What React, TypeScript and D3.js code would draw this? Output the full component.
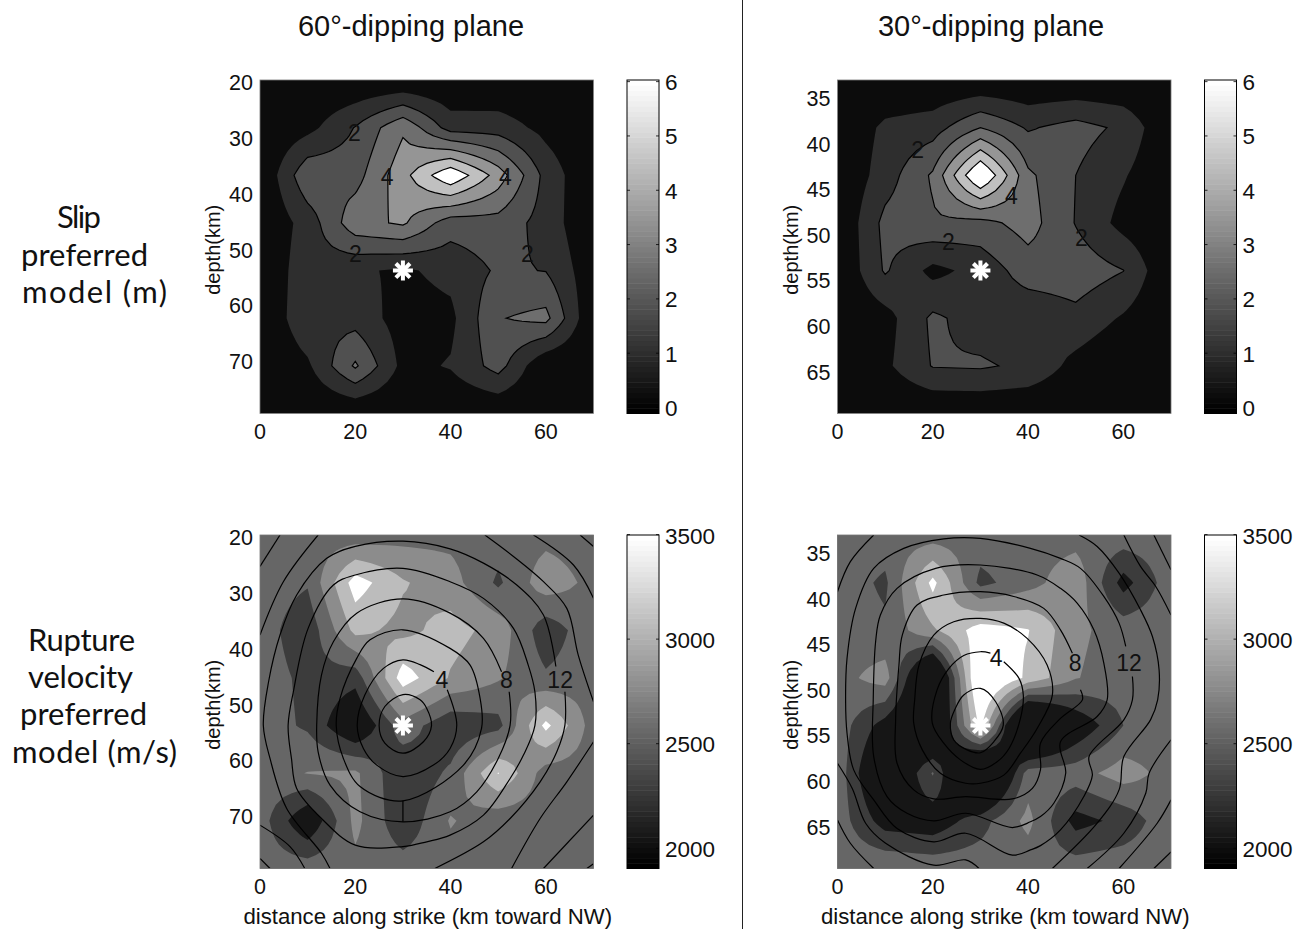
import React from "react";
import * as d3 from "d3";

// ---- shared grid: along-strike and down-dip positions (km) of the model nodes
const nodeKm = [0, 10, 20, 30, 40, 50, 60, 70];
const hypocentre = [30, 40];
const strikeTicks = [0, 20, 40, 60];
const depthTicks60 = [20, 30, 40, 50, 60, 70];
const depthTicks30 = [35, 40, 45, 50, 55, 60, 65];
const depthRange60 = [19.65, 79.35];
const depthRange30 = [33.02, 69.6];

// ---- slip (m)
const slipLevels = [1, 2, 3, 4, 5, 6];
const slipBands = ["#0c0c0c", "#2e2e2e", "#505050", "#6e6e6e", "#959595", "#c0c0c0", "#ffffff"];
const slipTicks = [0, 1, 2, 3, 4, 5, 6];
const slip60 = [
  [0, 0, 0, 0, 0, 0, 0, 0],
  [0, 0.67, 2.05, 3.83, 1.55, 1.53, 0.68, 0],
  [0, 2.8, 2.6, 4.65, 6.88, 4.56, 1.66, 0],
  [0, 1.43, 3.65, 4.15, 2.45, 2.6, 1.6, 0],
  [0, 1.68, 1.15, 0.85, 1.3, 2.14, 1.97, 0.3],
  [0, 1.79, 1.6, 0.55, 0.75, 2.94, 3.3, 0],
  [0, 0.82, 3.15, 0.7, 1.08, 2.41, 0.05, 0],
  [0, 0, 0, 0, 0, 0, 0, 0],
];
const slip30 = [
  [0, 0, 0, 0, 0, 0, 0, 0],
  [0, 1.23, 1.55, 3.0, 1.89, 2.38, 1.8, 0],
  [0, 1.5, 3.15, 7.3, 3.2, 2.0, 1.1, 0],
  [0, 2.3, 2.85, 2.65, 3.42, 1.95, 0.64, 0],
  [0, 2.12, 0.7, 1.35, 2.51, 2.6, 2.02, 0],
  [0, 0.6, 2.2, 1.53, 1.2, 1.7, 0.88, 0],
  [0, 0.8, 2.06, 2.13, 1.79, 0.66, 0, 0],
  [0, 0, 0, 0, 0, 0, 0, 0],
];
const slipLabels60 = [[2, 19.8, 11.1], [4, 26.7, 20.4], [4, 51.5, 20.4], [2, 20, 36.6], [2, 56.1, 36.6]];
const slipLabels30 = [[2, 16.8, 14.7], [4, 36.5, 24.4], [2, 23.3, 34], [2, 51.2, 33.2]];

// ---- rupture velocity (m/s)
const velLevels = [2100, 2400, 2700, 3000, 3300];
const velBands = ["#161616", "#3c3c3c", "#666666", "#8c8c8c", "#bcbcbc", "#ffffff"];
const velTicks = [2000, 2500, 3000, 3500];
const vel60 = [
  [2550, 2550, 2520, 2595, 2610, 2550, 2610, 2550],
  [2550, 2430, 3450, 3030, 2829, 2346, 2880, 2610],
  [2550, 2190, 3090, 2910, 3120, 2886, 2205, 2625],
  [2550, 2325, 2205, 3468, 2970, 2730, 2445, 2580],
  [2550, 2352, 1722, 2580, 2160, 2295, 3390, 2550],
  [2550, 2712, 2760, 2130, 2460, 3315, 2550, 2550],
  [2550, 1788, 2790, 2160, 2730, 2490, 2550, 2550],
  [2550, 2562, 2610, 2550, 2550, 2550, 2550, 2550],
];
const vel30 = [
  [2580, 2580, 2550, 2580, 2580, 2580, 2580, 2580],
  [2580, 2340, 3390, 2310, 2580, 2910, 1974, 2580],
  [2580, 2460, 2955, 3450, 3315, 2760, 2580, 2580],
  [2580, 2850, 1200, 3840, 3225, 2715, 2550, 2580],
  [2580, 1950, 1350, 3390, 900, 1800, 2400, 2580],
  [2610, 1455, 2430, 900, 2550, 2568, 2850, 2580],
  [2565, 1950, 1881, 2280, 2790, 1980, 2190, 2625],
  [2580, 2670, 2610, 2580, 2490, 2562, 2601, 2580],
];

// ---- rupture-time isochrones: [along strike km, down dip km]
type Iso = { closed: boolean; pts: number[][] };
const iso60: Iso[] = [
  { closed: true, pts: [[25, 40], [26.2, 36], [30, 33.5], [33.6, 34.6], [35, 36.4], [36, 40], [34.3, 43.4], [30, 45.8], [26.2, 43.7]] },
  { closed: false, pts: [[39.3, 32.5], [41.3, 39.9], [39.9, 44.8], [36.4, 48.3], [30, 50.7], [24.5, 48.3], [21.7, 44.8], [20.4, 40], [22, 33.6], [25.9, 28], [30, 26.2], [33.6, 27.2], [36.5, 28.7]] },
  { closed: true, pts: [[16, 40], [16.8, 34.3], [20.3, 25.9], [23.1, 22], [30, 19.9], [39.9, 23.8], [44.1, 27.3], [46.2, 34.3], [46.5, 40.6], [42.7, 48.3], [30, 55.8], [21, 52.8], [17.5, 46.9]] },
  { closed: false, pts: [[52.3, 32.9], [52.5, 39.9], [50, 46.9], [45.5, 53.9], [39.9, 58.1], [30, 60.2], [21, 58.1], [14.7, 52.5], [12.2, 45.5], [11.9, 39.9], [12.9, 29.4], [15.4, 22.4], [20.3, 16.4], [30, 13.4], [39.9, 16.4], [46.9, 21.7], [50.7, 28.7]] },
  { closed: false, pts: [[30, 55.8], [30, 60.2]] },
  { closed: true, pts: [[5.9, 40], [7, 32.9], [10.1, 19.6], [15.4, 10.5], [20, 8.4], [30, 7], [39.9, 9.8], [46.9, 13.3], [53.2, 19.6], [56.3, 27.3], [57.7, 32.9], [57.7, 40], [55.3, 46.2], [52.5, 51.1], [46.9, 58.8], [39.9, 63], [35, 64.4], [30, 65.4], [20, 65.1], [12.9, 59.5], [7.7, 53.2], [6.6, 46.9]] },
  { closed: false, pts: [[62.1, 27.6], [59.5, 16.8], [53.9, 10.5], [46.9, 5.9], [39.9, 2.9], [30, 1.3], [20, 2.4], [14, 4.9], [7.7, 12.6], [4.2, 21], [1.8, 30.8], [0.7, 40], [2.1, 46.9], [5.6, 57.4], [12.9, 66.8], [14.7, 70]] },
  { closed: false, pts: [[64, 32.9], [64, 39.9], [62.3, 45.5], [58.8, 51.8], [52.5, 59.5], [46.9, 64.4], [36.7, 70]] },
  { closed: false, pts: [[12.2, 0], [4.9, 9.8], [0, 21]] },
  { closed: false, pts: [[47.2, 0], [53.2, 4.5], [59.5, 9.8], [64.4, 15.4], [66.8, 25.2], [70, 35]] },
  { closed: false, pts: [[70, 43.4], [64.4, 51.8], [58.8, 59.5], [52.8, 70]] },
  { closed: false, pts: [[0, 60.9], [6.3, 65.4], [9.4, 70]] },
  { closed: false, pts: [[0, 6.6], [4.2, 0]] },
  { closed: false, pts: [[57.4, 0], [65.8, 6.3], [70, 13.3]] },
  { closed: false, pts: [[59.5, 70], [70, 58.8]] },
  { closed: false, pts: [[0, 67.9], [2.1, 70]] },
  { closed: false, pts: [[67.2, 0], [70, 2.4]] },
  { closed: false, pts: [[68.6, 70], [70, 69]] },
];
const iso30: Iso[] = [
  { closed: true, pts: [[30, 32.2], [26.5, 33.6], [24.6, 36.7], [23.7, 39.5], [24.4, 43], [27.2, 45.1], [30, 45.7], [32.8, 43.4], [34.8, 39.9], [33.2, 35]] },
  { closed: false, pts: [[34.9, 26.6], [38.1, 30.1], [39, 33.6], [38.4, 38.5], [36, 44.8], [33.5, 47.6], [30, 49.2], [25.8, 47.2], [22.3, 43.7], [19.9, 39.5], [20.9, 32.5], [23.4, 28], [26.5, 25.3], [30, 24.5], [32.1, 24.8]] },
  { closed: true, pts: [[30, 17.5], [24.4, 18.2], [20.2, 21], [17.1, 27.3], [16.2, 34.6], [16, 39.5], [17.8, 45.1], [21.6, 50], [26.9, 52.1], [30, 52.1], [34.9, 50.4], [38.4, 45.8], [41.9, 40.6], [45.1, 33.6], [44, 27.3], [39.8, 21.7], [34.9, 18.5]] },
  { closed: false, pts: [[51, 32.5], [51.4, 34.6], [46.8, 38.5], [42.6, 43.7], [42.6, 49.3], [40.9, 53.2], [36.7, 55.4], [26.9, 54.9], [20.2, 55.4], [16, 53.5], [12.5, 47.9], [12.2, 38.8], [12.9, 27.3], [13.6, 21], [16.7, 14.7], [22.3, 12.6], [30, 11.9], [37, 12.9], [43.3, 15.4], [46.8, 19.9], [49.3, 24.8]] },
  { closed: true, pts: [[56.6, 34.6], [54.5, 38.1], [46.8, 43.4], [47.9, 50], [45.4, 56.3], [42.6, 59.1], [40.5, 60.2], [36.7, 61.4], [26.9, 58.4], [20.2, 60], [14.6, 58.4], [10.4, 54.9], [7.6, 46.5], [7.5, 34.6], [8, 22.4], [9, 16.8], [12.5, 11.2], [20.6, 7], [30, 6.3], [41.9, 8.4], [46.8, 11.2], [50.3, 14.3], [53.8, 19.9], [55.9, 26.9]] },
  { closed: false, pts: [[61.9, 29.7], [61.9, 34.6], [60.1, 38.8], [52.8, 46.5], [53.5, 50.4], [51.7, 54.9], [46.8, 61.9], [42.6, 65.2], [40.5, 66.1], [36.7, 67.2], [26.9, 62.6], [20.2, 64.4], [12.5, 61.6], [7.6, 55.6], [3.4, 49.3], [2, 41.6], [1.7, 34.6], [2, 25.9], [3.8, 15.4], [7.6, 7], [13.9, 2.8], [22.3, 0.8], [30, 0.7], [40.5, 2.8], [46.8, 4.9], [51, 7], [55.9, 12.9], [59.1, 18.5], [60.5, 23.4]] },
  { closed: false, pts: [[7.6, 0], [2.7, 5.6], [0, 11.9]] },
  { closed: false, pts: [[50.7, 0], [54.5, 2.4], [59.1, 8], [63.6, 15.7], [66.1, 21.3], [67.5, 28.3], [67.2, 34.6], [65.7, 38.8], [60.1, 46.5], [59.1, 53.5], [54.5, 60.5], [45.1, 70]] },
  { closed: false, pts: [[0, 47.9], [3.1, 53.2], [5.9, 60.5], [10.1, 64.7], [20.2, 69.3], [26.9, 68.2], [29.7, 70]] },
  { closed: false, pts: [[60.1, 0], [63.6, 6.6], [66.8, 10.8], [70, 16.8]] },
  { closed: false, pts: [[70, 43], [65.4, 50], [64.7, 54.2], [60.1, 62.6], [52.4, 70]] },
  { closed: false, pts: [[0, 59.8], [2.7, 64.7], [7.6, 70]] },
  { closed: false, pts: [[66.4, 0], [70, 7.3]] },
  { closed: false, pts: [[70, 55.6], [67.1, 60.5], [59.1, 70]] },
  { closed: false, pts: [[70, 66.5], [66.4, 70]] },
];
const isoLabels60 = [[4, 38.2, 30.5], [8, 51.7, 30.5], [12, 63, 30.5]];
const isoLabels30 = [[4, 33.3, 25.9], [8, 49.9, 26.9], [12, 61.2, 26.9]];

const HELV = "'Liberation Sans', Arial, sans-serif";
const GEOM = "Lato, 'Open Sans', sans-serif";
const SIZE = 333.5;
const TICK_FS = 21.5;
const starAngles = [0, 45, 90, 135];
const REFINE = 6;

// bilinear resampling of the node grid so that contour lines curve inside each cell
function refine(grid: number[][]) {
  const n = grid.length;
  const m = (n - 1) * REFINE + 1;
  const out: number[] = [];
  for (let j = 0; j < m; j++) {
    const gy = j / REFINE;
    const j0 = Math.min(Math.floor(gy), n - 2);
    const ty = gy - j0;
    for (let i = 0; i < m; i++) {
      const gx = i / REFINE;
      const i0 = Math.min(Math.floor(gx), n - 2);
      const tx = gx - i0;
      out.push(
        grid[j0][i0] * (1 - tx) * (1 - ty) +
          grid[j0][i0 + 1] * tx * (1 - ty) +
          grid[j0 + 1][i0] * (1 - tx) * ty +
          grid[j0 + 1][i0 + 1] * tx * ty
      );
    }
  }
  return { m, out };
}

function Panel(props: any) {
  const { x, y, grid, levels, bands, lineFrom, depthRange, depthTicks, labels, iso, xlabel, title, titleX, cbDomain, cbTicks } = props;
  const sx = d3.scaleLinear().domain([0, 70]).range([0, SIZE]);
  const sDip = d3.scaleLinear().domain([0, 70]).range([0, SIZE]);
  const sDepth = d3.scaleLinear().domain(depthRange).range([0, SIZE]);
  const { m, out } = refine(grid);
  const step = (nodeKm[1] - nodeKm[0]) / REFINE;
  const conts = d3.contours().size([m, m]).smooth(true).thresholds(levels)(out);
  const proj = d3.geoTransform({
    point(px: number, py: number) {
      (this as any).stream.point(sx((px - 0.5) * step), sDip((py - 0.5) * step));
    },
  });
  const gp = d3.geoPath(proj as any);
  const clipId = `clip-${x}-${y}`;
  const line = d3.line().x((d: any) => sx(d[0])).y((d: any) => sDip(d[1])).curve(d3.curveCatmullRom.alpha(0.5));
  const lineClosed = d3.line().x((d: any) => sx(d[0])).y((d: any) => sDip(d[1])).curve(d3.curveCatmullRomClosed.alpha(0.5));

  const cbX = 367;
  const cbW = 32;
  const sCb = d3.scaleLinear().domain(cbDomain).range([SIZE, 0]);
  const steps = 64;
  const stepH = SIZE / steps;

  return (
    <g transform={`translate(${x},${y})`}>
      <defs>
        <clipPath id={clipId}>
          <rect x={0} y={0} width={SIZE} height={SIZE} />
        </clipPath>
      </defs>
      <g clipPath={`url(#${clipId})`}>
        <rect x={0} y={0} width={SIZE} height={SIZE} fill={bands[0]} />
        {conts.map((c: any, i: number) => (
          <path key={i} d={gp(c) || ""} fill={bands[i + 1]} stroke="none" />
        ))}
        {lineFrom != null &&
          conts.map((c: any, i: number) =>
            levels[i] >= lineFrom ? <path key={"l" + i} d={gp(c) || ""} fill="none" stroke="#000" strokeWidth={1.2} /> : null
          )}
        {iso &&
          iso.map((s: Iso, i: number) => (
            <path key={"i" + i} d={(s.closed ? lineClosed : line)(s.pts as any) || ""} fill="none" stroke="#000" strokeWidth={1.2} />
          ))}
        {labels.map((l: number[], i: number) => (
          <text key={"t" + i} x={sx(l[1])} y={sDip(l[2])} textAnchor="middle" dominantBaseline="central" fontFamily={HELV} fontSize={23} fill="#111">
            {l[0]}
          </text>
        ))}
        <g transform={`translate(${sx(hypocentre[0])},${sDip(hypocentre[1])})`}>
          {starAngles.map((a) => (
            <line key={a} x1={-10} x2={10} y1={0} y2={0} transform={`rotate(${a})`} stroke="#fff" strokeWidth={4} />
          ))}
        </g>
      </g>
      <rect x={0} y={0} width={SIZE} height={SIZE} fill="none" stroke="#777" strokeWidth={0.8} />
      {depthTicks.map((t: number) => (
        <text key={t} x={-7} y={sDepth(t) + 1} textAnchor="end" dominantBaseline="central" fontFamily={HELV} fontSize={TICK_FS} fill="#111">
          {t}
        </text>
      ))}
      {strikeTicks.map((t) => (
        <text key={t} x={sx(t)} y={SIZE + 18.5} textAnchor="middle" dominantBaseline="central" fontFamily={HELV} fontSize={TICK_FS} fill="#111">
          {t}
        </text>
      ))}
      <text transform={`translate(-47,${SIZE / 2 + 3}) rotate(-90)`} textAnchor="middle" dominantBaseline="central" fontFamily={HELV} fontSize={20} fill="#111">
        depth(km)
      </text>
      {xlabel && (
        <text x={SIZE / 2 + 1} y={SIZE + 48} textAnchor="middle" dominantBaseline="central" fontFamily={HELV} fontSize={22.2} fill="#111">
          {xlabel}
        </text>
      )}
      {title && (
        <text x={titleX - x} y={-44} textAnchor="middle" fontFamily={HELV} fontSize={29} fill="#111">
          {title}
        </text>
      )}
      <g transform={`translate(${cbX},0)`}>
        {d3.range(steps).map((i) => {
          const g = Math.round(255 * (i / (steps - 1)));
          return <rect key={i} x={0} y={SIZE - (i + 1) * stepH} width={cbW} height={stepH + 0.5} fill={`rgb(${g},${g},${g})`} />;
        })}
        <rect x={0} y={0} width={cbW} height={SIZE} fill="none" stroke="#000" strokeWidth={1} />
        {cbTicks.map((t: number) => (
          <g key={t}>
            <line x1={0} x2={3} y1={sCb(t)} y2={sCb(t)} stroke="#000" strokeWidth={0.8} />
            <line x1={cbW - 3} x2={cbW} y1={sCb(t)} y2={sCb(t)} stroke="#000" strokeWidth={0.8} />
            <text x={cbW + 6} y={sCb(t) + 1 + (t === 3500 ? 1 : 0)} dominantBaseline="central" fontFamily={HELV} fontSize={22.5} fill="#111">
              {t}
            </text>
          </g>
        ))}
      </g>
    </g>
  );
}

// row captions: text, left edge, width, baseline
const rowText = [
  ["Slip", 57, 44, 228],
  ["preferred", 21, 127, 266],
  ["model (m)", 22, 145, 303],
  ["Rupture", 28, 107, 651],
  ["velocity", 28, 105, 688],
  ["preferred", 20, 127, 725],
  ["model (m/s)", 12, 165, 763],
];
const xLabel = "distance along strike (km toward NW)";

export default function App() {
  const slipDomain = [-0.11, 6.03];
  const velDomain = [1903, 3498];
  return (
    <svg width={1305} height={929} style={{ position: "absolute", left: 0, top: 0, background: "#fff" }}>
      <line x1={742.5} x2={742.5} y1={0} y2={929} stroke="#222" strokeWidth={1} />
      <Panel x={260} y={80} grid={slip60} levels={slipLevels} bands={slipBands} lineFrom={2} depthRange={depthRange60} depthTicks={depthTicks60} labels={slipLabels60} title="60°-dipping plane" titleX={411} cbDomain={slipDomain} cbTicks={slipTicks} />
      <Panel x={837.5} y={80} grid={slip30} levels={slipLevels} bands={slipBands} lineFrom={2} depthRange={depthRange30} depthTicks={depthTicks30} labels={slipLabels30} title="30°-dipping plane" titleX={991} cbDomain={slipDomain} cbTicks={slipTicks} />
      <Panel x={260} y={535} grid={vel60} levels={velLevels} bands={velBands} depthRange={depthRange60} depthTicks={depthTicks60} labels={isoLabels60} iso={iso60} xlabel={xLabel} cbDomain={velDomain} cbTicks={velTicks} />
      <Panel x={837.5} y={535} grid={vel30} levels={velLevels} bands={velBands} depthRange={depthRange30} depthTicks={depthTicks30} labels={isoLabels30} iso={iso30} xlabel={xLabel} cbDomain={velDomain} cbTicks={velTicks} />
      {rowText.map((r: any, i) => (
        <text key={i} x={r[1]} y={r[3]} textLength={r[2]} lengthAdjust="spacing" fontFamily={GEOM} fontSize={31} fill="#111">
          {r[0]}
        </text>
      ))}
    </svg>
  );
}
